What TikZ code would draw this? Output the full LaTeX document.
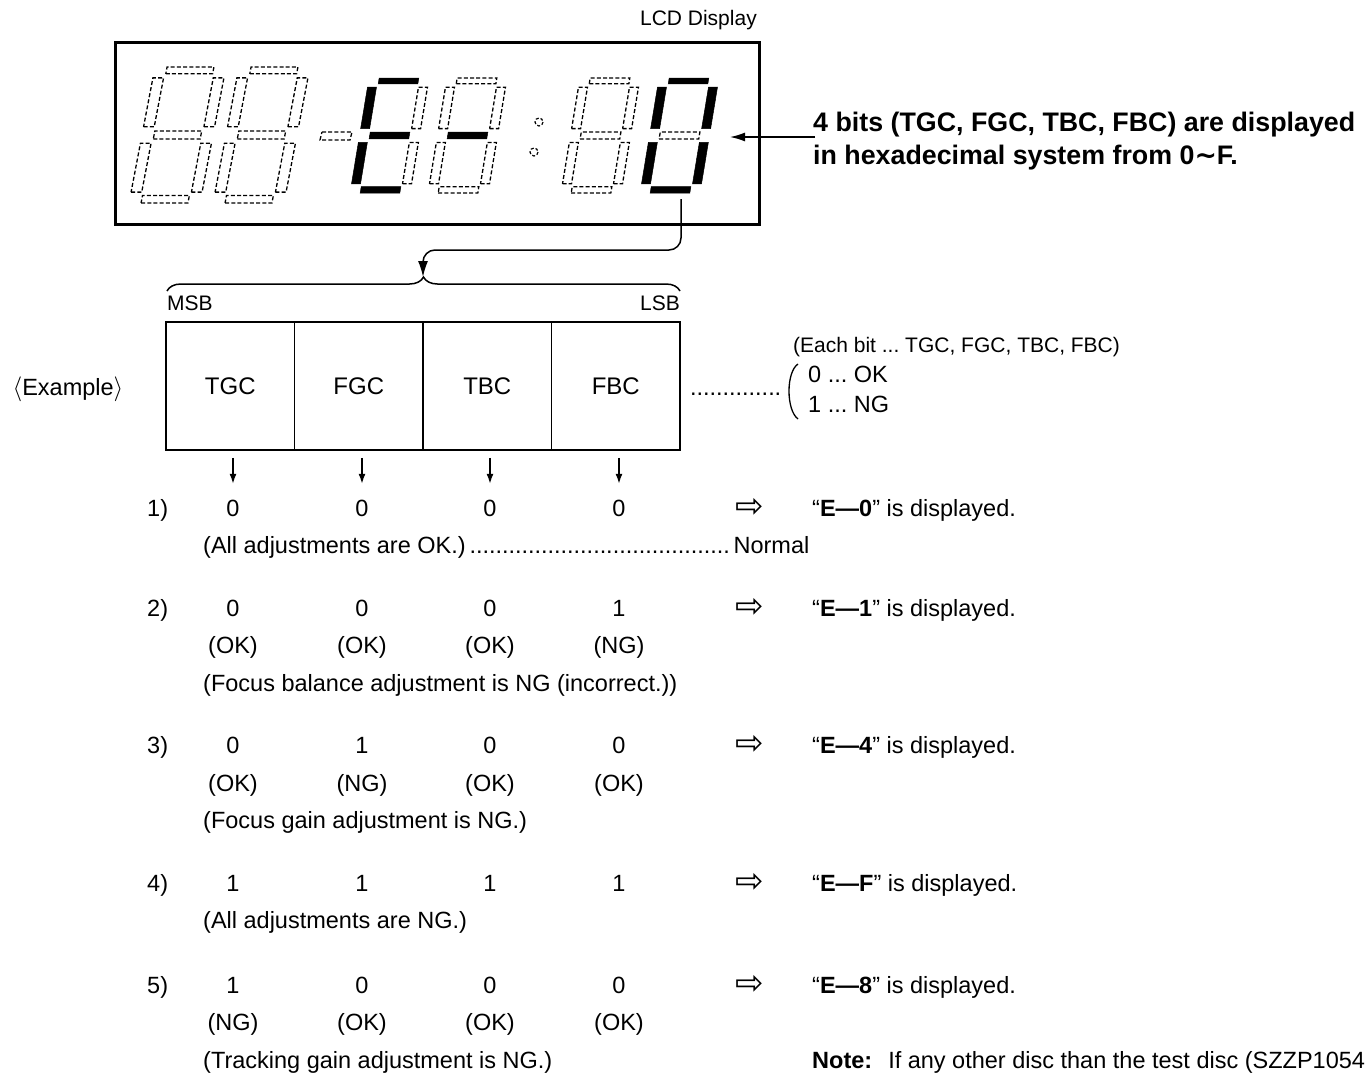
\documentclass[tikz,border=0pt]{standalone}
\usepackage{fontspec}
\setmainfont{Liberation Sans}
\newfontfamily\djv{DejaVu Sans}
\usetikzlibrary{arrows.meta,decorations.pathreplacing}
\frenchspacing

\newcommand\dleader{\leaders\hbox to 6.5pt{\hss.\hss}\hfill}
\newcommand\sgpoly[5]{\path[#1] (#2,#4) -- (#3,#4) -- (#3,#5) -- (#2,#5) -- cycle;}
\newcommand\sevenseg[5]{%
 \begin{scope}[shift={(#1,#2)}, x={(#3pt,0pt)}, y={(#5pt,#4pt)}]
  \sgpoly{segA}{0.17}{0.83}{0.95}{1}
  \sgpoly{segG}{0.17}{0.83}{0.47}{0.53}
  \sgpoly{segD}{0.17}{0.83}{0}{0.055}
  \sgpoly{segF}{0}{0.15}{0.56}{0.92}
  \sgpoly{segB}{0.85}{1}{0.56}{0.92}
  \sgpoly{segE}{0}{0.15}{0.08}{0.44}
  \sgpoly{segC}{0.85}{1}{0.08}{0.44}
 \end{scope}}

\tikzset{
 segon/.style={fill=black, draw=black, line width=0.5pt},
 segoff/.style={draw=black, line width=1.3pt, dash pattern=on 4pt off 2.2pt},
 alloff/.style={segA/.style=segoff,segB/.style=segoff,segC/.style=segoff,segD/.style=segoff,segE/.style=segoff,segF/.style=segoff,segG/.style=segoff},
 txt/.style={font=\fontsize{23.5}{28}\selectfont, inner sep=0pt, anchor=base},
 txtl/.style={txt, anchor=base west},
 small/.style={font=\fontsize{21}{25}\selectfont, inner sep=0pt, anchor=base west},
 head/.style={font=\fontsize{26.8}{32}\selectfont\bfseries, inner sep=0pt, anchor=base west},
 darr/.style={font=\djv\fontsize{34}{38}\selectfont, inner sep=0pt, anchor=center},
 thinln/.style={line width=1.5pt},
 cell/.style={draw, line width=1.5pt, minimum width=128.5pt, minimum height=128pt, inner sep=0pt, font=\fontsize{24}{28}\selectfont},
 smallarr/.style={thinln, -{Latex[length=10pt,width=7pt]}},
}

\begin{document}
\begin{tikzpicture}[x=1pt,y=-1pt]
\useasboundingbox[fill=white] (0,0) rectangle (1369,1077);

% ---------- LCD display ----------
\node[small, anchor=base east] (lcdlabel) at (757,25.5) {LCD Display};
\node[draw, line width=3pt, minimum width=644pt, minimum height=182pt, inner sep=0pt] (lcd) at (437,133) {};

\begin{scope}[alloff]
 \sevenseg{129}{203}{71}{136}{26}
 \sevenseg{213}{203}{71}{136}{26}
\end{scope}
\path[segoff] (322,132) -- (352,132) -- (350,140) -- (320,140) -- cycle;
\begin{scope}[alloff, segA/.style=segon, segD/.style=segon, segE/.style=segon, segF/.style=segon, segG/.style=segon]
 \sevenseg{350}{193}{60}{115}{19}
\end{scope}
\begin{scope}[alloff, segG/.style=segon]
 \sevenseg{428}{193}{60}{115}{19}
\end{scope}
\draw[line width=1.2pt, dash pattern=on 3pt off 2pt] (539,122) circle (4);
\draw[line width=1.2pt, dash pattern=on 3pt off 2pt] (534,152) circle (4);
\begin{scope}[alloff]
 \sevenseg{561}{193}{60}{115}{19}
\end{scope}
\begin{scope}[alloff, segA/.style=segon, segB/.style=segon, segC/.style=segon, segD/.style=segon, segE/.style=segon, segF/.style=segon]
 \sevenseg{640}{193}{60}{115}{19}
\end{scope}

% ---------- explanation at right ----------
\node[head] (head1) at (813,131.6) {4 bits (TGC, FGC, TBC, FBC) are displayed};
\node[head] (head2) at (813,164.6) {in hexadecimal system from 0{\djv\bfseries ∼}F.};
\coordinate (headarr) at (815,137);
\coordinate (digtip) at (730,137);
\draw[thinln, -{Latex[length=15pt,width=9pt]}] (headarr) -- (digtip);

% ---------- connector and brace ----------
\coordinate (lcdout) at (681,199);
\coordinate (bend) at (423,250);
\coordinate (bracetip) at (423,277);
\draw[thinln, rounded corners=12pt, -{Latex[length=16pt,width=10pt]}] (lcdout) |- (bend) -- (bracetip);
\draw[thinln, decorate, decoration={brace, amplitude=14pt}] (167,291) -- (680,291);
\node[small] (msb) at (167,310.5) {MSB};
\node[small, anchor=base east] (lsb) at (680,310.5) {LSB};

% ---------- bit cells ----------
\node[cell] (tgc) at (230.25,386) {TGC};
\node[cell] (fgc) at (358.75,386) {FGC};
\node[cell] (tbc) at (487.25,386) {TBC};
\node[cell] (fbc) at (615.75,386) {FBC};
\node[txt] (example) at (68,395) {$\langle$Example$\rangle$};

\node[txtl] (lead) at (690,395) {\hbox to 95pt{\dleader}};
\draw[line width=1.3pt] (798,364) .. controls (786,372) and (786,410) .. (798,419);
\node[small] (eachbit) at (793,352) {(Each bit ... TGC, FGC, TBC, FBC)};
\node[txtl] (ok) at (808,382.4) {0 ... OK};
\node[txtl] (ng) at (808,412.4) {1 ... NG};

% ---------- row 1 ----------
\node[txtl] (n1) at (147,516.4) {1)};
\node[txt] (v11) at (233,516.4) {0};
\node[txt] (v12) at (362,516.4) {0};
\node[txt] (v13) at (490,516.4) {0};
\node[txt] (v14) at (619,516.4) {0};
\node[darr] (r1) at (750,508) {⇨};
\node[txtl] (e1) at (812,516.4) {“\textbf{E—0}” is displayed.};
\node[txtl] (d1) at (203,553.4) {\hbox to 606pt{(All adjustments are OK.)\kern3pt\dleader\kern3pt Normal}};

\draw[smallarr] ([yshift=-7pt]v11.north |- tgc.south) -- ([yshift=16pt]v11.north);
\draw[smallarr] ([yshift=-7pt]v12.north |- fgc.south) -- ([yshift=16pt]v12.north);
\draw[smallarr] ([yshift=-7pt]v13.north |- tbc.south) -- ([yshift=16pt]v13.north);
\draw[smallarr] ([yshift=-7pt]v14.north |- fbc.south) -- ([yshift=16pt]v14.north);

% ---------- row 2 ----------
\node[txtl] (n2) at (147,616.4) {2)};
\node[txt] (v21) at (233,616.4) {0};
\node[txt] (v22) at (362,616.4) {0};
\node[txt] (v23) at (490,616.4) {0};
\node[txt] (v24) at (619,616.4) {1};
\node[darr] (r2) at (750,608) {⇨};
\node[txtl] (e2) at (812,616.4) {“\textbf{E—1}” is displayed.};
\node[txt] (o21) at (233,653.4) {(OK)};
\node[txt] (o22) at (362,653.4) {(OK)};
\node[txt] (o23) at (490,653.4) {(OK)};
\node[txt] (o24) at (619,653.4) {(NG)};
\node[txtl] (d2) at (203,691.4) {(Focus balance adjustment is NG (incorrect.))};

% ---------- row 3 ----------
\node[txtl] (n3) at (147,753.4) {3)};
\node[txt] (v31) at (233,753.4) {0};
\node[txt] (v32) at (362,753.4) {1};
\node[txt] (v33) at (490,753.4) {0};
\node[txt] (v34) at (619,753.4) {0};
\node[darr] (r3) at (750,745) {⇨};
\node[txtl] (e3) at (812,753.4) {“\textbf{E—4}” is displayed.};
\node[txt] (o31) at (233,791.4) {(OK)};
\node[txt] (o32) at (362,791.4) {(NG)};
\node[txt] (o33) at (490,791.4) {(OK)};
\node[txt] (o34) at (619,791.4) {(OK)};
\node[txtl] (d3) at (203,828.4) {(Focus gain adjustment is NG.)};

% ---------- row 4 ----------
\node[txtl] (n4) at (147,891.4) {4)};
\node[txt] (v41) at (233,891.4) {1};
\node[txt] (v42) at (362,891.4) {1};
\node[txt] (v43) at (490,891.4) {1};
\node[txt] (v44) at (619,891.4) {1};
\node[darr] (r4) at (750,883) {⇨};
\node[txtl] (e4) at (812,891.4) {“\textbf{E—F}” is displayed.};
\node[txtl] (d4) at (203,928.4) {(All adjustments are NG.)};

% ---------- row 5 ----------
\node[txtl] (n5) at (147,993.4) {5)};
\node[txt] (v51) at (233,993.4) {1};
\node[txt] (v52) at (362,993.4) {0};
\node[txt] (v53) at (490,993.4) {0};
\node[txt] (v54) at (619,993.4) {0};
\node[darr] (r5) at (750,985) {⇨};
\node[txtl] (e5) at (812,993.4) {“\textbf{E—8}” is displayed.};
\node[txt] (o51) at (233,1030.4) {(NG)};
\node[txt] (o52) at (362,1030.4) {(OK)};
\node[txt] (o53) at (490,1030.4) {(OK)};
\node[txt] (o54) at (619,1030.4) {(OK)};
\node[txtl] (d5) at (203,1068.4) {(Tracking gain adjustment is NG.)};

\node[txtl] (note) at (812,1068.4) {\textbf{Note:}\hspace{16pt}If any other disc than the test disc (SZZP1054};
\end{tikzpicture}
\end{document}
